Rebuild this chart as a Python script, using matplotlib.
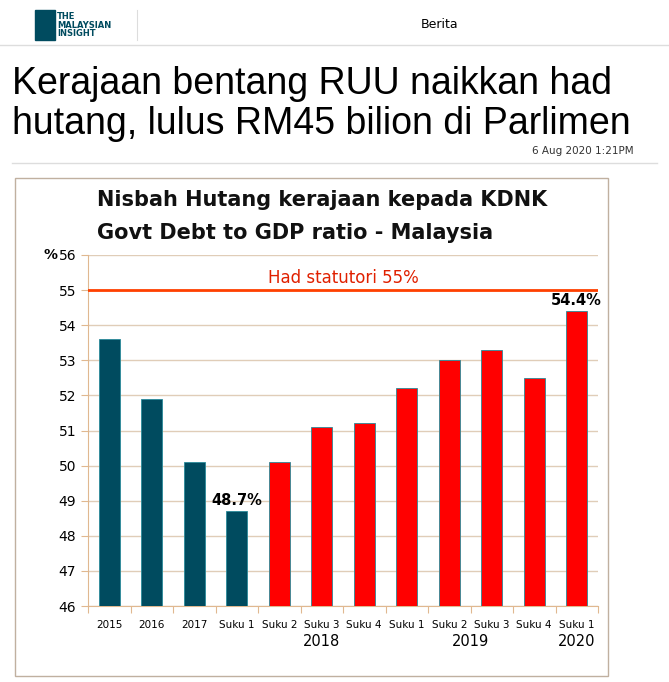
import matplotlib.pyplot as plt
from matplotlib.patches import Rectangle
from matplotlib.lines import Line2D

labels = ["2015", "2016", "2017", "Suku 1", "Suku 2", "Suku 3", "Suku 4",
          "Suku 1", "Suku 2", "Suku 3", "Suku 4", "Suku 1"]
values = [53.6, 51.9, 50.1, 48.7, 50.1, 51.1, 51.2, 52.2, 53.0, 53.3, 52.5, 54.4]
colors = ["#004b5f"] * 4 + ["#ff0000"] * 8
years = [("2018", 5.0), ("2019", 8.5), ("2020", 11.0)]
limit = 55

fig = plt.figure(figsize=(6.69, 6.82), dpi=100)
W, H = 669, 682

def fx(x): return x / W
def fy(y): return 1 - y / H

# ── Page header ───────────────────────────────
fig.add_artist(Rectangle((fx(35), fy(40)), 20 / W, 30 / H, color="#004b5f", transform=fig.transFigure))
fig.text(fx(57), fy(25), "THE\nMALAYSIAN\nINSIGHT", fontsize=6, fontweight="bold",
         color="#004b5f", va="center", linespacing=0.95)
fig.add_artist(Line2D([fx(137), fx(137)], [fy(10), fy(40)], color="#dddddd", lw=0.8, transform=fig.transFigure))
fig.text(fx(440), fy(25), "Berita", fontsize=9, ha="center", va="center")
fig.add_artist(Line2D([0, 1], [fy(45), fy(45)], color="#dddddd", lw=1, transform=fig.transFigure))
fig.text(fx(12), fy(104), "Kerajaan bentang RUU naikkan had\nhutang, lulus RM45 bilion di Parlimen",
         fontsize=27, va="center", linespacing=1.15, family="Liberation Sans")
fig.text(fx(634), fy(151), "6 Aug 2020 1:21PM", fontsize=7.5, ha="right", va="center", color="#333333")
fig.add_artist(Line2D([fx(12), fx(657)], [fy(163), fy(163)], color="#dddddd", lw=1, transform=fig.transFigure))

# chart frame
fig.add_artist(Rectangle((fx(15), fy(676)), 593 / W, 498 / H, fill=False,
                         edgecolor="#c0b0a0", lw=1, transform=fig.transFigure))
fig.text(fx(97), fy(200), "Nisbah Hutang kerajaan kepada KDNK", fontsize=15, fontweight="bold",
         va="center", color="#111111")
fig.text(fx(97), fy(233), "Govt Debt to GDP ratio - Malaysia", fontsize=15, fontweight="bold",
         va="center", color="#111111")

# ── Chart ─────────────────────────────────────
ax = fig.add_axes([fx(88), fy(606), (598 - 88) / W, (606 - 255) / H])
x = range(len(values))
ax.bar(x, [v - 46 for v in values], bottom=46, width=0.5, color=colors,
       edgecolor="#2a8a9a", linewidth=0.6, zorder=3)
ax.axhline(limit, color="#ff4000", lw=2, zorder=4)
ax.text(5.5, limit + 0.1, "Had statutori 55%", color="#e02000", fontsize=12,
        ha="center", va="bottom", zorder=5)
ax.text(3, values[3] + 0.1, "48.7%", fontsize=10.5, fontweight="bold", ha="center", va="bottom")
ax.text(11, values[11] + 0.1, "54.4%", fontsize=10.5, fontweight="bold", ha="center", va="bottom")

ax.set_xlim(-0.5, len(values) - 0.5)
ax.set_ylim(46, 56)
ax.set_yticks(range(46, 57))
ax.yaxis.grid(True, color="#e0cdb8", lw=1, zorder=0)
ax.set_xticks([i + 0.5 for i in range(-1, len(values))], minor=False)
ax.set_xticklabels([])
ax.set_xticks(list(x), minor=True)
ax.set_xticklabels(labels, minor=True, fontsize=7.5, family="DejaVu Sans Condensed")
ax.tick_params(axis="x", which="minor", length=0, pad=10)
ax.tick_params(axis="x", which="major", length=5, color="#e0b890")
ax.tick_params(axis="y", length=5, color="#e0b890", labelsize=10)
for s in ["top", "right"]:
    ax.spines[s].set_visible(False)
for s in ["left", "bottom"]:
    ax.spines[s].set_color("#e0b890")
ax.text(-0.06, 1.0, "%", transform=ax.transAxes, fontsize=10, fontweight="bold", ha="right", va="center")
for yr, pos in years:
    ax.text(pos, -0.1, yr, transform=ax.get_xaxis_transform(), fontsize=10.5,
            ha="center", va="center")

fig.savefig("out.png", dpi=100)
